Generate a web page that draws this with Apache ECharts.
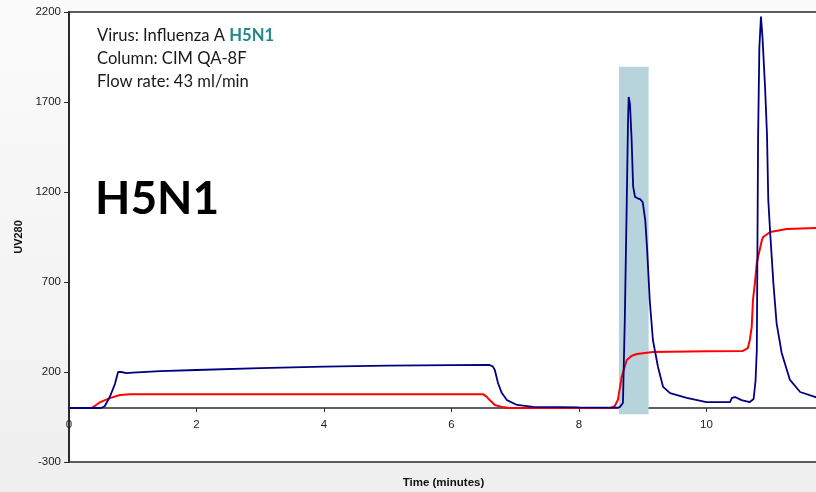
<!DOCTYPE html>
<html>
<head>
<meta charset="utf-8">
<script src="https://cdn.jsdelivr.net/npm/echarts@6/dist/echarts.min.js"></script>
<style>html,body{margin:0;padding:0;}#c{width:816px;height:492px;}</style>
</head>
<body>
<div id="c"></div>
<script>
// UV280 trace (blue)
const uvTime = [0, 0.5, 0.56, 0.64, 0.72, 0.77, 0.82, 0.9, 1.0, 1.43, 2, 3, 4, 5, 6, 6.6, 6.65, 6.68, 6.73, 6.79, 6.87, 7.03, 7.28, 7.7, 8.0, 8.6, 8.64, 8.69, 8.72, 8.75, 8.77, 8.78, 8.8, 8.825, 8.85, 8.88, 8.92, 8.96, 9.0, 9.04, 9.07, 9.11, 9.16, 9.24, 9.32, 9.43, 9.69, 10.0, 10.37, 10.4, 10.45, 10.55, 10.68, 10.74, 10.77, 10.79, 10.80, 10.81, 10.83, 10.855, 10.87, 10.88, 10.92, 10.95, 10.97, 11.0, 11.05, 11.1, 11.18, 11.31, 11.47, 11.75];
const uvValue = [0, 0, 10, 61, 133, 200, 200, 194, 197, 205, 211, 222, 230, 235, 238, 239, 230, 211, 139, 83, 44, 17, 6, 5, 3, 2, 5, 28, 506, 1150, 1600, 1728, 1690, 1500, 1230, 1172, 1165, 1160, 1144, 1044, 878, 600, 378, 228, 117, 83, 56, 33, 33, 56, 61, 44, 33, 50, 150, 322, 900, 1500, 2000, 2175, 2170, 2055, 1778, 1517, 1156, 972, 694, 472, 306, 156, 89, 56];
// Conductivity trace (red)
const condTime = [0, 0.35, 0.42, 0.49, 0.64, 0.8, 0.96, 1.2, 6.5, 6.55, 6.6, 6.68, 6.8, 6.9, 8.5, 8.56, 8.61, 8.67, 8.75, 8.83, 8.91, 9.16, 10.0, 10.57, 10.65, 10.68, 10.71, 10.73, 10.76, 10.79, 10.81, 10.87, 10.89, 11.0, 11.26, 11.75];
const condValue = [0, 0, 15, 33, 55, 72, 76, 76, 76, 63, 44, 17, 5, 0, 0, 10, 44, 172, 267, 290, 300, 311, 315, 317, 333, 378, 450, 600, 694, 806, 839, 933, 950, 978, 994, 1000];
// Highlighted fraction window
const fractionX = [8.627, 9.093];
const fractionY = [-35, 1896];
// Axis ticks
const xTicks = { min: 0, max: 11.75, interval: 2 };
const yTicks = { min: -300, max: 2200, interval: 500 };

const uvData = uvTime.map((t, i) => [t, uvValue[i]]);
const condData = condTime.map((t, i) => [t, condValue[i]]);

const chart = echarts.init(document.getElementById('c'));
chart.setOption({
  animation: false,
  backgroundColor: new echarts.graphic.LinearGradient(0, 0, 0, 1, [
    { offset: 0, color: '#fbfbfb' }, { offset: 1, color: '#efefef' }
  ]),
  grid: { left: 69, right: -2, top: 12, bottom: 30, containLabel: false, outerBoundsMode: 'none', show: true, backgroundColor: '#ffffff', borderColor: '#2b2b2b', borderWidth: 1.5 },
  xAxis: {
    type: 'value', min: xTicks.min, max: xTicks.max, interval: xTicks.interval,
    position: 'bottom', offset: -54,
    name: 'Time (minutes)', nameLocation: 'middle', nameGap: 69,
    nameTextStyle: { fontFamily: 'Liberation Sans, Arial', fontWeight: 'bold', fontSize: 11.5, color: '#111' },
    axisLine: { onZero: false, lineStyle: { color: '#2b2b2b', width: 1.5 } },
    axisTick: { show: true, length: 4, lineStyle: { color: '#2b2b2b' } },
    axisLabel: { margin: 11, fontFamily: 'Liberation Sans, Arial', fontSize: 11.5, color: '#222', showMaxLabel: false, formatter: v => String(v) },
    splitLine: { show: false }
  },
  yAxis: {
    type: 'value', min: yTicks.min, max: yTicks.max, interval: yTicks.interval,
    name: 'UV280', nameLocation: 'middle', nameGap: 38,
    nameTextStyle: { fontFamily: 'Liberation Sans, Arial', fontWeight: 'bold', fontSize: 11, color: '#111' },
    axisLine: { show: true, lineStyle: { color: '#2b2b2b', width: 2 } },
    axisTick: { show: true, length: 5, lineStyle: { color: '#2b2b2b' } },
    axisLabel: { margin: 8, fontFamily: 'Liberation Sans, Arial', fontSize: 11.5, color: '#222', formatter: v => String(v) },
    splitLine: { show: false }
  },
  series: [
    {
      name: 'UV280', type: 'line', data: uvData, showSymbol: false, smooth: false,
      lineStyle: { color: '#000080', width: 1.8 }, z: 3,
      markArea: {
        silent: true,
        itemStyle: { color: '#b7d4dc' },
        data: [[{ xAxis: fractionX[0], yAxis: fractionY[0] }, { xAxis: fractionX[1], yAxis: fractionY[1] }]]
      }
    },
    {
      name: 'Conductivity', type: 'line', data: condData, showSymbol: false, smooth: false,
      lineStyle: { color: '#ff0000', width: 2 }, z: 2
    }
  ],
  graphic: [
    {
      type: 'text', left: 97, top: 24,
      style: {
        text: 'Virus: Influenza A {t|H5N1}\nColumn: CIM QA-8F\nFlow rate: 43 ml/min',
        font: '16.6px Lato', fill: '#1a1a1a', lineHeight: 23,
        rich: { t: { fill: '#1f8a8a', fontWeight: 'bold', fontFamily: 'Lato', fontSize: 16.6, lineHeight: 23 } }
      }
    },
    {
      type: 'text', left: 95, top: 176,
      style: { text: 'H5N1', font: 'bold 46px Lato', fill: '#000' }
    }
  ]
});
</script>
</body>
</html>
